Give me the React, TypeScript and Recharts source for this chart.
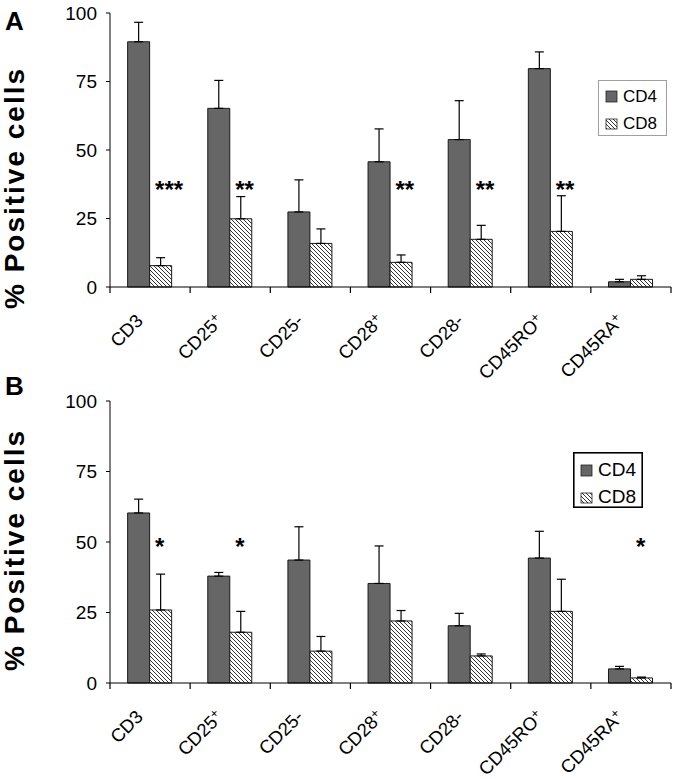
import React from 'react';
import { ComposedChart, Bar, Line, XAxis, YAxis, ErrorBar, Legend } from 'recharts';

const categories = ['CD3', 'CD25+', 'CD25-', 'CD28+', 'CD28-', 'CD45RO+', 'CD45RA+'];

// Panel A
const cd4A = [89.5, 65.2, 27.4, 45.7, 53.8, 79.7, 1.9];
const cd4ErrA = [7.1, 10.2, 11.7, 12.0, 14.2, 6.1, 0.9];
const cd8A = [7.8, 24.9, 15.9, 9.0, 17.4, 20.3, 2.8];
const cd8ErrA = [2.9, 8.1, 5.3, 2.7, 5.1, 13.0, 1.3];
const sigA = ['***', '**', '', '**', '**', '**', ''];
const sigLevelA = 37.6;

// Panel B
const cd4B = [60.3, 37.9, 43.6, 35.3, 20.3, 44.3, 5.0];
const cd4ErrB = [4.9, 1.3, 11.8, 13.3, 4.4, 9.5, 0.9];
const cd8B = [25.9, 18.0, 11.3, 22.0, 9.6, 25.4, 1.8];
const cd8ErrB = [12.7, 7.4, 5.2, 3.7, 0.7, 11.4, 0.3];
const sigB = ['*', '*', '', '', '', '', '*'];
const sigLevelB = 50.5;

const yTicks = [0, 25, 50, 75, 100];

const FONT = '"Liberation Sans", Arial, Helvetica, sans-serif';

function buildData(cd4: number[], cd4Err: number[], cd8: number[], cd8Err: number[], sig: string[], level: number) {
  return categories.map((name, i) => ({
    name,
    cd4: cd4[i],
    cd4Err: [0, cd4Err[i]],
    cd8: cd8[i],
    cd8Err: [0, cd8Err[i]],
    sig: sig[i],
    sigY: sig[i] ? level : null,
  }));
}

const dataA = buildData(cd4A, cd4ErrA, cd8A, cd8ErrA, sigA, sigLevelA);
const dataB = buildData(cd4B, cd4ErrB, cd8B, cd8ErrB, sigB, sigLevelB);

const CatTick = (props: any) => {
  const { x, y, payload, index, visibleTicksCount } = props;
  const name: string = String(payload.value);
  const plus = name.endsWith('+');
  const base = plus ? name.slice(0, -1) : name;
  const off = payload.offset || 0;
  const last = index === (visibleTicksCount || categories.length) - 1;
  const ax = x - 6;
  const ay = y + 35;
  return (
    <g>
      <line x1={x - off} y1={y} x2={x - off} y2={y + 6} stroke="#000" strokeWidth={1.2} />
      {last ? <line x1={x + off} y1={y} x2={x + off} y2={y + 6} stroke="#000" strokeWidth={1.2} /> : null}
      <g transform={`translate(${ax},${ay})`}>
        <g transform="rotate(-45)">
          <text x={0} y={0} textAnchor="end" fontSize={18.5} fill="#000" fontFamily={FONT}>
            {base}
            {plus ? (
              <tspan fontSize={13} dy={-6}>
                +
              </tspan>
            ) : null}
          </text>
        </g>
      </g>
    </g>
  );
};

const makeSig = (fs: number) => (props: any) => {
  const { cx, cy, payload, index } = props;
  if (!payload || !payload.sig || cx == null || cy == null) return <g key={`s${index}`} />;
  return (
    <text key={`s${index}`} x={cx + 5} y={cy + 0.58 * fs} fontSize={fs} fontWeight="bold" fill="#000" fontFamily={FONT}>
      {payload.sig}
    </text>
  );
};

const LegendBox = ({ w, h, border, bw, fs, rows }: any) => (
  <svg width={w} height={h} style={{ display: 'block' }}>
    <rect x={bw / 2} y={bw / 2} width={w - bw} height={h - bw} fill="#fff" stroke={border} strokeWidth={bw} />
    <rect x={8} y={rows[0] - 11} width={11} height={11} fill="#666" stroke="#222" strokeWidth={0.8} />
    <text x={25} y={rows[0]} fontSize={fs} fill="#000" fontFamily={FONT}>CD4</text>
    <rect x={8} y={rows[1] - 10} width={11} height={10} fill="url(#hatch)" stroke="#222" strokeWidth={0.8} />
    <text x={25} y={rows[1]} fontSize={fs} fill="#000" fontFamily={FONT}>CD8</text>
  </svg>
);

function Panel({ data, height, mTop, axisH, legendPos, legendProps, sigFs }: any) {
  return (
    <ComposedChart
      width={677}
      height={height}
      data={data}
      margin={{ top: mTop, right: 6, left: 30, bottom: 0 }}
      barCategoryGap="22%"
      barGap={0}
    >
      <YAxis
        domain={[0, 100]}
        ticks={yTicks}
        interval={0}
        width={80}
        tickSize={4}
        tickMargin={9}
        stroke="#000"
        tick={{ fill: '#000', fontSize: 19, fontFamily: FONT }}
      />
      <XAxis
        dataKey="name"
        interval={0}
        height={axisH}
        stroke="#000"
        tickLine={false}
        tickSize={0}
        tickMargin={0}
        tick={(p: any) => <CatTick {...p} />}
      />
      <Bar dataKey="cd4" name="CD4" fill="#666666" stroke="#1a1a1a" strokeWidth={1} isAnimationActive={false}>
        <ErrorBar dataKey="cd4Err" width={4.5} stroke="#000" strokeWidth={1.2} direction="y" />
      </Bar>
      <Bar dataKey="cd8" name="CD8" fill="url(#hatch)" stroke="#1a1a1a" strokeWidth={1} isAnimationActive={false}>
        <ErrorBar dataKey="cd8Err" width={4.5} stroke="#000" strokeWidth={1.2} direction="y" />
      </Bar>
      <Line
        dataKey="sigY"
        stroke="none"
        dot={makeSig(sigFs)}
        activeDot={false}
        legendType="none"
        isAnimationActive={false}
      />
      <Legend
        layout="horizontal"
        verticalAlign="middle"
        align="center"
        wrapperStyle={{ position: 'absolute', left: legendPos.left, top: legendPos.top, width: legendProps.w, height: legendProps.h }}
        content={() => <LegendBox {...legendProps} />}
      />
    </ComposedChart>
  );
}

export default function App() {
  return (
    <div style={{ position: 'absolute', left: 0, top: 0, width: 677, height: 779, background: '#fff', fontFamily: FONT }}>
      <svg width={0} height={0} style={{ position: 'absolute' }}>
        <defs>
          <pattern id="hatch" patternUnits="userSpaceOnUse" width={4} height={4}>
            <rect width={4} height={4} fill="#fff" />
            <path d="M-1,3 l2,2 M0,0 l4,4 M3,-1 l2,2" stroke="#333" strokeWidth={1} />
          </pattern>
        </defs>
      </svg>
      <div style={{ position: 'absolute', left: 0, top: 0 }}>
        <Panel
          data={dataA}
          height={390}
          mTop={13}
          axisH={103}
          sigFs={24}
          legendPos={{ left: 598, top: 80 }}
          legendProps={{ w: 69, h: 56, border: '#a0a0a0', bw: 1, fs: 17, rows: [22, 49] }}
        />
      </div>
      <div style={{ position: 'absolute', left: 0, top: 390 }}>
        <Panel
          data={dataB}
          height={389}
          mTop={11}
          axisH={96}
          sigFs={24}
          legendPos={{ left: 573, top: 62 }}
          legendProps={{ w: 70, h: 56, border: '#000', bw: 1.6, fs: 19, rows: [24, 51] }}
        />
      </div>
      <svg width={677} height={779} style={{ position: 'absolute', left: 0, top: 0, pointerEvents: 'none' }}>
        <text x={5} y={30} fontSize={26} fontWeight="bold" fill="#000" fontFamily={FONT}>A</text>
        <text x={5} y={395} fontSize={26} fontWeight="bold" fill="#000" fontFamily={FONT}>B</text>
        <text transform="translate(24,188) rotate(-90)" textAnchor="middle" fontSize={28} letterSpacing={2} fontWeight="bold" fill="#000" fontFamily={FONT}>% Positive cells</text>
        <text transform="translate(24,550) rotate(-90)" textAnchor="middle" fontSize={28} letterSpacing={2} fontWeight="bold" fill="#000" fontFamily={FONT}>% Positive cells</text>
      </svg>
    </div>
  );
}
